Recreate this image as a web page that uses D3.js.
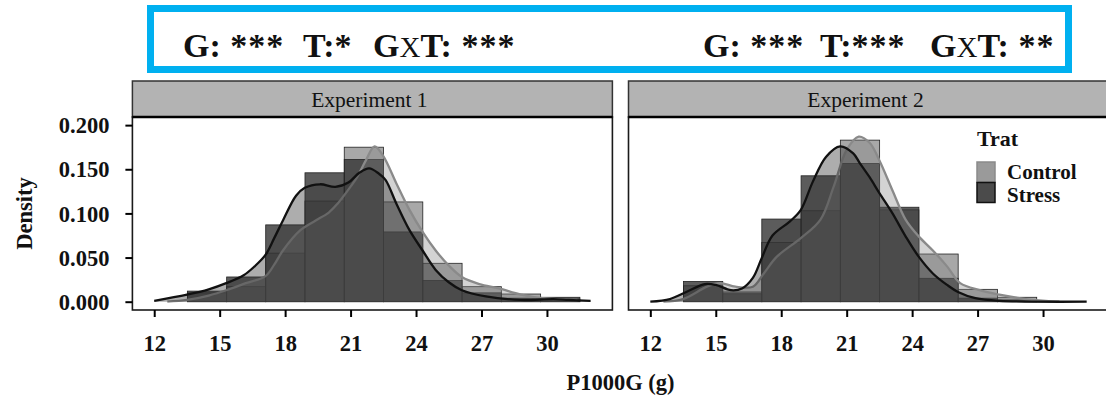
<!DOCTYPE html>
<html>
<head>
<meta charset="utf-8">
<script src="https://cdn.jsdelivr.net/npm/d3@7"></script>
<style>
  body { margin: 0; background: #ffffff; }
  text { font-family: "Liberation Serif", "Times New Roman", serif; }
</style>
</head>
<body>
<svg id="chart" width="1106" height="401"></svg>
<script>
// ---- data ---------------------------------------------------------------
const experiments = ["Experiment 1", "Experiment 2"];
const treatments = ["Control", "Stress"];

// histogram bin edges (g)
const binEdges = [13.52, 15.32, 17.11, 18.91, 20.71, 22.51, 24.31, 26.11, 27.91, 29.71, 31.51];

// bin densities per experiment and treatment
const exp1Control = [0.010, 0.017, 0.055, 0.114, 0.175, 0.113, 0.0435, 0.017, 0.0087, 0.003];
const exp1Stress  = [0.012, 0.028, 0.087, 0.146, 0.161, 0.079, 0.024, 0.010, 0.004, 0.005];
const exp2Control = [0.018, 0.011, 0.067, 0.103, 0.183, 0.104, 0.054, 0.014, 0.005];
const exp2Stress  = [0.023, 0.009, 0.0936, 0.1426, 0.1566, 0.107, 0.0265, 0.004, 0.002];

// kernel density estimates: [P1000G, density]
const exp1ControlKde = [[12.6,0.000],[13.5,0.002],[14.5,0.007],[15.3,0.013],[16.2,0.021],[17.1,0.029],[17.5,0.042],[17.9,0.058],[18.7,0.081],[19.4,0.092],[20.0,0.101],[20.4,0.111],[20.9,0.127],[21.3,0.141],[21.7,0.160],[22.1,0.176],[22.5,0.165],[23.1,0.134],[23.7,0.104],[24.3,0.079],[24.9,0.058],[25.5,0.041],[26.1,0.028],[26.9,0.020],[27.8,0.015],[28.8,0.008],[29.8,0.004],[31.4,0.002]];
const exp1StressKde  = [[12.0,0.001],[13.5,0.008],[14.5,0.014],[15.3,0.021],[16.1,0.030],[16.6,0.040],[17.1,0.053],[17.5,0.072],[17.9,0.092],[18.5,0.120],[18.9,0.129],[19.6,0.133],[20.3,0.130],[20.9,0.135],[21.4,0.146],[21.85,0.151],[22.3,0.145],[22.6,0.138],[23.1,0.111],[23.7,0.081],[24.3,0.058],[24.9,0.036],[25.5,0.022],[26.1,0.013],[27.2,0.006],[28.8,0.002],[30.3,0.003],[31.0,0.002],[32.0,0.001]];
const exp2ControlKde = [[12.6,0.000],[13.5,0.003],[14.6,0.017],[15.2,0.021],[15.9,0.017],[16.7,0.017],[17.2,0.032],[17.8,0.051],[18.9,0.072],[19.8,0.093],[20.4,0.130],[21.0,0.172],[21.55,0.187],[22.05,0.180],[22.5,0.160],[23.1,0.126],[23.7,0.093],[24.3,0.074],[24.95,0.058],[25.6,0.040],[26.2,0.021],[27.1,0.013],[28.0,0.008],[29.2,0.003],[30.75,0.000]];
const exp2StressKde  = [[12.0,0.000],[12.9,0.003],[13.65,0.011],[14.5,0.020],[15.0,0.019],[15.7,0.013],[16.2,0.015],[16.7,0.027],[17.1,0.049],[17.6,0.075],[18.4,0.091],[18.9,0.104],[19.45,0.136],[20.05,0.164],[20.7,0.176],[21.3,0.168],[21.6,0.157],[22.05,0.141],[22.5,0.123],[23.1,0.100],[23.7,0.074],[24.3,0.051],[24.95,0.032],[25.6,0.019],[26.1,0.011],[26.9,0.004],[28.0,0.001],[32.0,0.000]];

// axis ticks
const xTicks = [12, 15, 18, 21, 24, 27, 30];
const yTicks = [0, 0.05, 0.10, 0.15, 0.20];

// ANOVA significance per experiment: [label, stars]
const exp1Signif = [["G:", " ***"], ["T:", "*"], ["GXT:", " ***"]];
const exp2Signif = [["G:", " ***"], ["T:", "***"], ["GXT:", " **"]];

// ---- layout -------------------------------------------------------------
const svg = d3.select("#chart");
const panelW = 480, panelGap = 16.1;
const panelLeft = 132.4;
const stripTop = 81, stripBottom = 117, panelBottom = 310;

const histStyle = {
  Control: { fill: "#7a7a7a", opacity: 0.65 },
  Stress:  { fill: "#333333", opacity: 0.80 }
};
const kdeStyle = {
  Control: { fill: "#808080", opacity: 0.35, line: "#8a8a8a" },
  Stress:  { fill: "#333333", opacity: 0.40, line: "#111111" }
};

const y = d3.scaleLinear().domain([-0.0094, 0.2092]).range([panelBottom, stripBottom]);

const panels = [
  { name: experiments[0], hist: { Control: exp1Control, Stress: exp1Stress }, kde: { Control: exp1ControlKde, Stress: exp1StressKde } },
  { name: experiments[1], hist: { Control: exp2Control, Stress: exp2Stress }, kde: { Control: exp2ControlKde, Stress: exp2StressKde } }
];

const defs = svg.append("defs");

panels.forEach((p, i) => {
  const x0 = panelLeft + i * (panelW + panelGap);
  const x = d3.scaleLinear().domain([11, 33]).range([x0, x0 + panelW]);
  const g = svg.append("g");

  defs.append("clipPath").attr("id", "clip" + i)
    .append("rect").attr("x", x0).attr("y", stripBottom).attr("width", panelW).attr("height", panelBottom - stripBottom);

  // strip
  g.append("rect")
    .attr("x", x0).attr("y", stripTop).attr("width", panelW).attr("height", stripBottom - stripTop)
    .attr("fill", "#b3b3b3").attr("stroke", "#333").attr("stroke-width", 1.5);
  g.append("text")
    .attr("x", x0 + panelW / 2 - 3).attr("y", 106.5)
    .attr("text-anchor", "middle").attr("font-size", 21.5).attr("fill", "#111")
    .text(p.name);

  const plot = g.append("g").attr("clip-path", `url(#clip${i})`);

  // histograms
  treatments.forEach(t => {
    const bins = p.hist[t].map((d, k) => ({ x0: binEdges[k], x1: binEdges[k + 1], d }));
    plot.append("g").selectAll("rect").data(bins).join("rect")
      .attr("x", b => x(b.x0)).attr("width", b => x(b.x1) - x(b.x0))
      .attr("y", b => y(b.d)).attr("height", b => y(0) - y(b.d))
      .attr("fill", histStyle[t].fill).attr("fill-opacity", histStyle[t].opacity)
      .attr("stroke", "#222").attr("stroke-width", 0.8);
  });

  // density curves
  treatments.forEach(t => {
    const pts = p.kde[t];
    const area = d3.area().x(d => x(d[0])).y0(y(0)).y1(d => y(d[1])).curve(d3.curveCatmullRom.alpha(0.5));
    const line = d3.line().x(d => x(d[0])).y(d => y(d[1])).curve(d3.curveCatmullRom.alpha(0.5));
    plot.append("path").datum(pts).attr("d", area)
      .attr("fill", kdeStyle[t].fill).attr("fill-opacity", kdeStyle[t].opacity);
    plot.append("path").datum(pts).attr("d", line)
      .attr("fill", "none").attr("stroke", kdeStyle[t].line).attr("stroke-width", 2.3);
  });

  // panel border
  g.append("rect")
    .attr("x", x0).attr("y", stripBottom).attr("width", panelW).attr("height", panelBottom - stripBottom)
    .attr("fill", "none").attr("stroke", "#1a1a1a").attr("stroke-width", 1.6);
  g.append("line")
    .attr("x1", x0).attr("x2", x0 + panelW).attr("y1", stripBottom).attr("y2", stripBottom)
    .attr("stroke", "#000").attr("stroke-width", 2.6);

  // x axis
  const xa = svg.append("g").attr("transform", `translate(0,${panelBottom})`)
    .call(d3.axisBottom(x).tickValues(xTicks).tickSize(7).tickPadding(0).tickFormat(d3.format("d")));
  xa.select(".domain").remove();
  xa.selectAll("line").attr("stroke", "#000").attr("stroke-width", 2);
  xa.selectAll("text").attr("y", 40.5).attr("dy", null)
    .attr("font-size", 22.5).attr("font-weight", "bold").attr("fill", "#111")
    .style("font-family", '"Liberation Serif", serif');

  if (i === 0) {
    const ya = svg.append("g").attr("transform", `translate(${x0},0)`)
      .call(d3.axisLeft(y).tickValues(yTicks).tickSize(7).tickPadding(16).tickFormat(d3.format(".3f")));
    ya.select(".domain").remove();
    ya.selectAll("line").attr("stroke", "#000").attr("stroke-width", 2);
    ya.selectAll("text").attr("dy", "0.34em")
      .attr("font-size", 22.5).attr("font-weight", "bold").attr("fill", "#111")
      .style("font-family", '"Liberation Serif", serif');
  }
});

// axis titles
svg.append("text")
  .attr("x", 620.5).attr("y", 390).attr("text-anchor", "middle")
  .attr("font-size", 22.5).attr("font-weight", "bold").attr("fill", "#111")
  .text("P1000G (g)");
svg.append("text")
  .attr("transform", "translate(32,213.5) rotate(-90)").attr("text-anchor", "middle")
  .attr("font-size", 22.5).attr("font-weight", "bold").attr("fill", "#111")
  .text("Density");

// legend
const lg = svg.append("g");
lg.append("text").attr("x", 977).attr("y", 145.5)
  .attr("font-size", 22).attr("font-weight", "bold").attr("fill", "#111").text("Trat");
treatments.forEach((t, k) => {
  const ky = 162 + k * 20.5;
  lg.append("rect").attr("x", 977).attr("y", ky).attr("width", 18).attr("height", 20)
    .attr("fill", "#fff");
  lg.append("rect").attr("x", 977).attr("y", ky).attr("width", 18).attr("height", 20)
    .attr("fill", histStyle[t].fill).attr("fill-opacity", histStyle[t].opacity);
  lg.append("rect").attr("x", 977).attr("y", ky).attr("width", 18).attr("height", 20)
    .attr("fill", kdeStyle[t].fill).attr("fill-opacity", kdeStyle[t].opacity)
    .attr("stroke", kdeStyle[t].line).attr("stroke-width", 1.5);
  lg.append("text").attr("x", 1007).attr("y", 178.5 + k * 23.5)
    .attr("font-size", 21).attr("font-weight", "bold").attr("fill", "#111").text(t);
});

// significance banner
svg.append("rect")
  .attr("x", 150.5).attr("y", 8.5).attr("width", 918).attr("height", 61)
  .attr("fill", "none").attr("stroke", "#00b0f0").attr("stroke-width", 7);

function signifLine(parts, xs) {
  parts.forEach((part, k) => {
    const t = svg.append("text").attr("x", xs[k]).attr("y", 57)
      .attr("font-size", 34).attr("font-weight", "bold").attr("fill", "#111")
      .attr("xml:space", "preserve");
    const lab = part[0];
    if (lab.startsWith("GXT")) {
      t.append("tspan").text("G");
      t.append("tspan").attr("font-size", 29).attr("font-weight", "normal").text("X");
      t.append("tspan").text(lab.slice(2));
    } else {
      t.append("tspan").text(lab);
    }
    t.append("tspan").attr("letter-spacing", 1).text(part[1]);
  });
}
signifLine(exp1Signif, [183, 303, 373]);
signifLine(exp2Signif, [703, 820, 930]);
</script>
</body>
</html>
